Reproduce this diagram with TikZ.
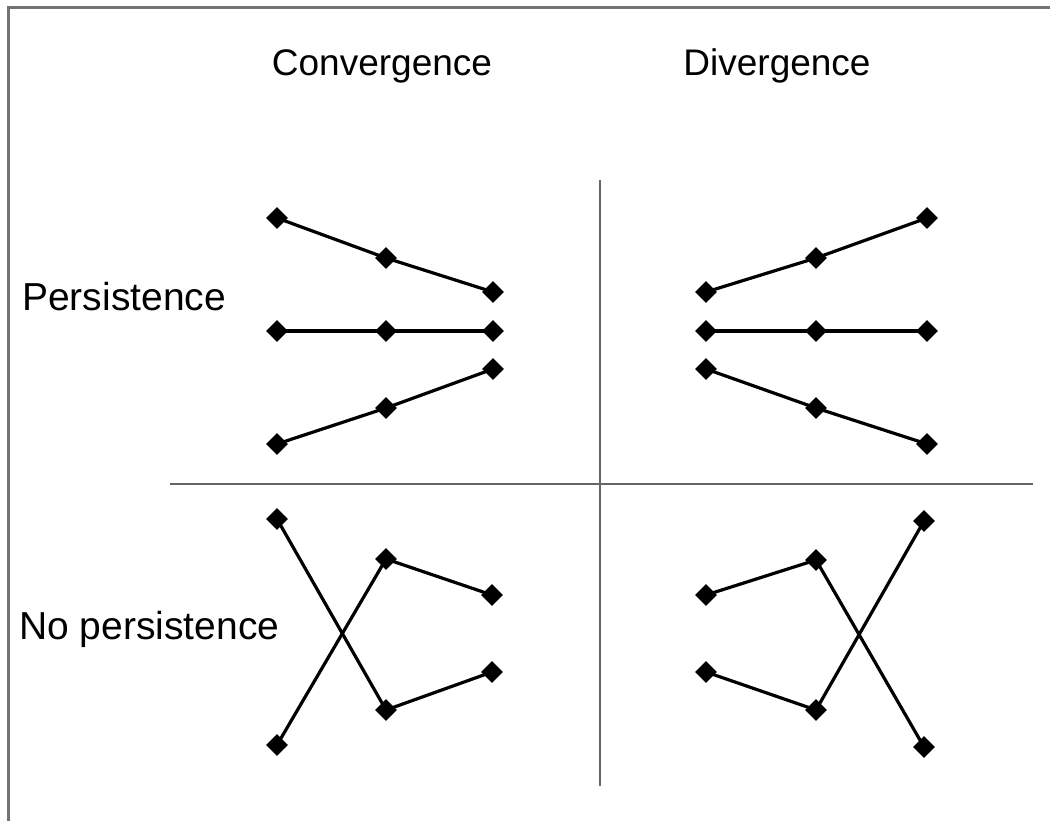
\documentclass[tikz,border=0pt]{standalone}
\usepackage{fontspec}
\setmainfont{Liberation Sans}
\usetikzlibrary{shapes.geometric}
\begin{document}
\begin{tikzpicture}[x=1pt,y=-1pt,
  pt/.style={diamond, fill=black, draw=none, inner sep=0pt, minimum size=22pt},
  ln/.style={line width=3.2pt, black},
  divider/.style={line width=2pt, black!60},
  frame/.style={line width=3pt, black!55},
  lbl/.style={inner sep=0pt, font=\fontsize{37}{44}\selectfont},
  rowlbl/.style={inner sep=0pt, font=\fontsize{39}{46}\selectfont}]
\useasboundingbox (0,0) rectangle (1050,821);
\fill[white] (0,0) rectangle (1050,821);
% frame (left and top)
\coordinate (fbl) at (8,821);
\coordinate (ftl) at (8,8);
\coordinate (ftr) at (1050,8);
\draw[frame] (fbl) -- (ftl) -- (ftr);
% dividers
\coordinate (hl) at (170,484);
\coordinate (hr) at (1033,484);
\coordinate (vt) at (600,180);
\coordinate (vb) at (600,786);
\draw[divider] (hl) -- (hr);
\draw[divider] (vt) -- (vb);
% labels
\node[lbl, anchor=base] (conv) at (382,76) {Convergence};
\node[lbl, anchor=base] (div) at (777,76) {Divergence};
\node[rowlbl, anchor=base west] (pers) at (22,310) {Persistence};
\node[rowlbl, anchor=base west] (nopers) at (19,639) {No persistence};
% convergence, persistence
\node[pt] (a1) at (277,218) {};
\node[pt] (a2) at (386,258) {};
\node[pt] (a3) at (493,292) {};
\node[pt] (b1) at (277,331) {};
\node[pt] (b2) at (386,331) {};
\node[pt] (b3) at (493,331) {};
\node[pt] (c1) at (277,444) {};
\node[pt] (c2) at (386,408) {};
\node[pt] (c3) at (493,369) {};
\draw[ln] (a1.center) -- (a2.center) -- (a3.center);
\draw[ln] (b1.center) -- (b2.center) -- (b3.center);
\draw[ln] (c1.center) -- (c2.center) -- (c3.center);
% divergence, persistence
\node[pt] (d1) at (706,292) {};
\node[pt] (d2) at (816,258) {};
\node[pt] (d3) at (927,218) {};
\node[pt] (e1) at (706,331) {};
\node[pt] (e2) at (816,331) {};
\node[pt] (e3) at (927,331) {};
\node[pt] (f1) at (706,369) {};
\node[pt] (f2) at (816,408) {};
\node[pt] (f3) at (927,444) {};
\draw[ln] (d1.center) -- (d2.center) -- (d3.center);
\draw[ln] (e1.center) -- (e2.center) -- (e3.center);
\draw[ln] (f1.center) -- (f2.center) -- (f3.center);
% convergence, no persistence
\node[pt] (g1) at (277,519) {};
\node[pt] (g2) at (386,710) {};
\node[pt] (g3) at (492,672) {};
\node[pt] (h1) at (277,745) {};
\node[pt] (h2) at (386,559) {};
\node[pt] (h3) at (492,595) {};
\draw[ln] (g1.center) -- (g2.center) -- (g3.center);
\draw[ln] (h1.center) -- (h2.center) -- (h3.center);
% divergence, no persistence
\node[pt] (i1) at (706,595) {};
\node[pt] (i2) at (816,560) {};
\node[pt] (i3) at (924,747) {};
\node[pt] (j1) at (706,672) {};
\node[pt] (j2) at (816,710) {};
\node[pt] (j3) at (924,521) {};
\draw[ln] (i1.center) -- (i2.center) -- (i3.center);
\draw[ln] (j1.center) -- (j2.center) -- (j3.center);
\end{tikzpicture}
\end{document}
